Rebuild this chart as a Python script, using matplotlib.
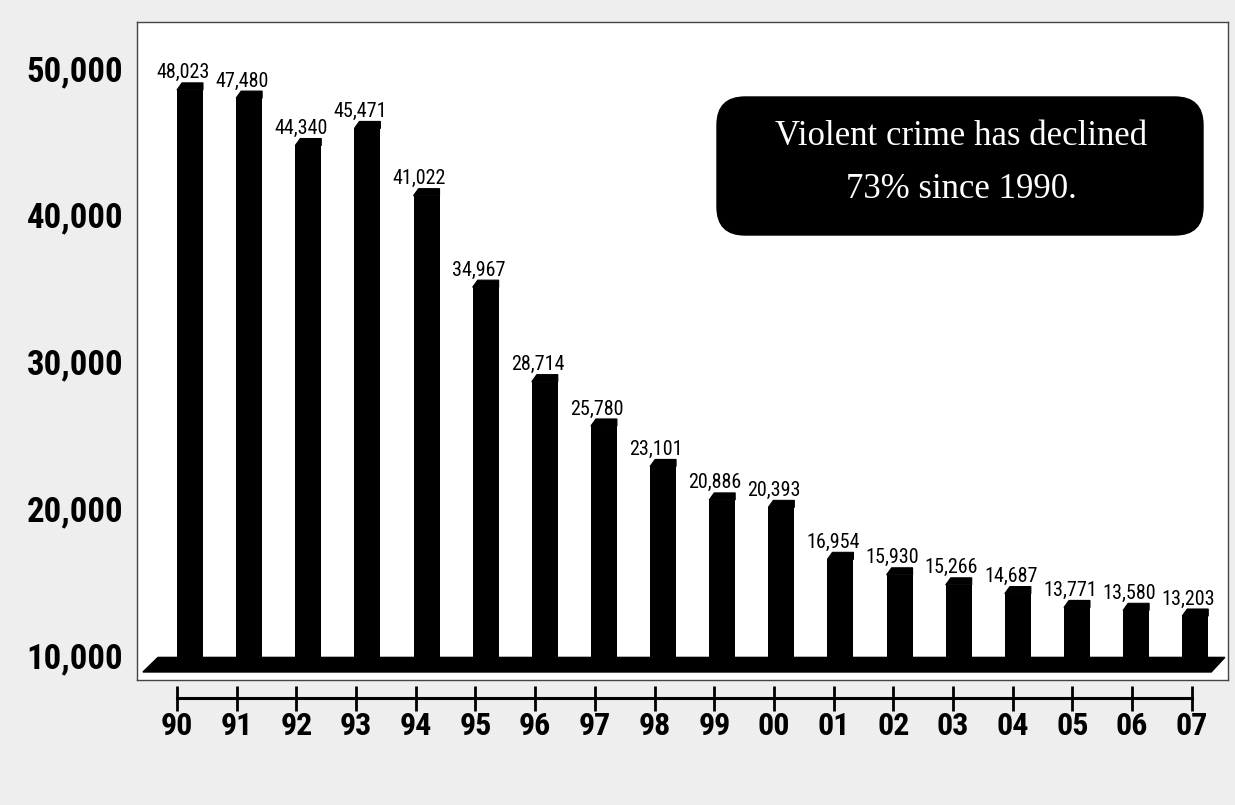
import matplotlib
matplotlib.use('Agg')
import matplotlib.pyplot as plt
import matplotlib.transforms as mtransforms
from matplotlib import font_manager
from matplotlib.patches import Polygon, FancyBboxPatch

# ---------------- data ----------------
years = ['90', '91', '92', '93', '94', '95', '96', '97', '98', '99',
         '00', '01', '02', '03', '04', '05', '06', '07']
values = [48023, 47480, 44340, 45471, 41022, 34967, 28714, 25780, 23101,
          20886, 20393, 16954, 15930, 15266, 14687, 13771, 13580, 13203]
yticks = [10000, 20000, 30000, 40000, 50000]
ytick_labels = ['10,000', '20,000', '30,000', '40,000', '50,000']
note = "Violent crime has declined\n73% since 1990."

# ---------------- fonts ----------------
names = {f.name for f in font_manager.fontManager.ttflist}
narrow = next((n for n in ['Liberation Sans Narrow', 'DejaVu Sans Condensed',
                           'Roboto Condensed', 'Liberation Sans']
               if n in names), 'DejaVu Sans')
serif = 'Liberation Serif' if 'Liberation Serif' in names else 'DejaVu Serif'

W, H = 1235, 805
fig = plt.figure(figsize=(W / 100, H / 100), dpi=100, facecolor='#eeeeee')

# ---------------- main plot panel ----------------
rect = [137 / W, 1 - 680 / H, (1228 - 137) / W, (680 - 22) / H]
ax = fig.add_axes(rect)
ax.set_facecolor('white')
for s in ax.spines.values():
    s.set_color('#444444')
    s.set_linewidth(1.0)
ax.set_xlim(-0.896, 17.554)
ax.set_ylim(8504, 52052)
ax.set_xticks([])
ax.set_yticks([])

base = 10000
x = list(range(len(values)))
bw = 0.44
cham_x, cham_y = 0.085, 463

# floor
ax.add_patch(Polygon([(-0.795, 9034), (-0.541, base), (17.50, base), (17.27, 9034)],
                     closed=True, facecolor='black', edgecolor='black', zorder=2))

# bars
ax.bar(x, [v - cham_y - base for v in values], bottom=base, width=bw,
       color='black', zorder=3)
for xi, v in zip(x, values):
    L, R = xi - bw / 2, xi + bw / 2
    ax.add_patch(Polygon([(L, v - cham_y - 1), (L + cham_x, v), (R, v), (R, v - cham_y - 1)],
                         closed=True, facecolor='black', edgecolor='black',
                         linewidth=0.8, zorder=3))
    ax.text(xi - 0.12, v + 300, f'{v:,}', ha='center', va='baseline',
            fontsize=14.5, family=narrow, color='black', zorder=4)

# ---------------- y labels (back-wall scale) ----------------
ay = fig.add_axes(rect)
ay.patch.set_visible(False)
for s in ay.spines.values():
    s.set_visible(False)
ay.set_ylim(8296, 53135)
ay.set_xticks([])
ay.set_yticks(yticks, labels=ytick_labels)
ay.tick_params(axis='y', length=0, pad=10, labelsize=25)
for lab in ay.get_yticklabels():
    lab.set_fontweight('bold')
    lab.set_family(narrow)

# ---------------- x axis below panel ----------------
ax2 = fig.add_axes([137 / W, 1 - 760 / H, (1228 - 137) / W, 80 / H])
ax2.patch.set_visible(False)
for k in ['top', 'left', 'right']:
    ax2.spines[k].set_visible(False)
ax2.spines['bottom'].set_position(('axes', 0.775))
ax2.spines['bottom'].set_linewidth(2.2)
ax2.spines['bottom'].set_bounds(0, len(years) - 1)
ax2.set_xlim(-0.670, 17.605)
ax2.set_ylim(0, 1)
ax2.set_yticks([])
ax2.set_xticks(x, labels=years)
ax2.tick_params(axis='x', direction='inout', length=18, width=2.0,
                pad=0.5, labelsize=23)
for lab in ax2.get_xticklabels():
    lab.set_fontweight('bold')
    lab.set_family(narrow)

# ---------------- annotation box ----------------
box = FancyBboxPatch((717, H - 235), 1203 - 717, 235 - 97,
                     boxstyle='round,pad=0,rounding_size=28',
                     facecolor='black', edgecolor='black',
                     transform=mtransforms.IdentityTransform(), zorder=5)
fig.add_artist(box)
fig.text(961 / W, 1 - 163 / H, note, ha='center', va='center', color='white',
         family=serif, fontsize=25, linespacing=1.82, zorder=6)

fig.savefig('out.png', dpi=100, facecolor=fig.get_facecolor())
